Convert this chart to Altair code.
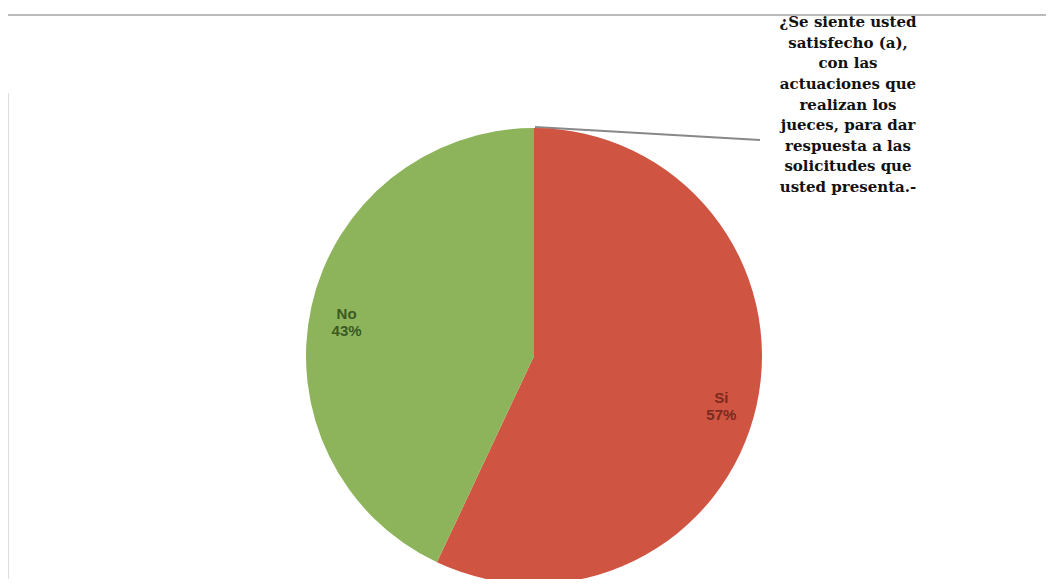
import altair as alt
import pandas as pd

categories = ["Si", "No"]
values = [57, 43]
pct_labels = ["57%", "43%"]
colors = ["#cf5441", "#8db45a"]
label_colors = ["#7a2a1e", "#3b5a22"]
title_lines = [
    "¿Se siente usted",
    "satisfecho (a),",
    "con las",
    "actuaciones que",
    "realizan los",
    "jueces, para dar",
    "respuesta a las",
    "solicitudes que",
    "usted presenta.-",
]

df = pd.DataFrame({
    "cat": categories,
    "val": values,
    "pct": pct_labels,
    "order": [0, 1],
})
df["label"] = df["cat"] + "\n" + df["pct"]

W, H = 1038, 571
cx, cy, R = 526, 348, 228

base = alt.Chart(df).encode(
    theta=alt.Theta("val:Q", stack=True),
    order=alt.Order("order:Q"),
)

pie = base.mark_arc(outerRadius=R, stroke=None).encode(
    x=alt.value(cx), y=alt.value(cy),
    color=alt.Color("cat:N", scale=alt.Scale(domain=categories, range=colors), legend=None),
)

labels = base.mark_text(radius=192, fontSize=15, fontWeight="bold", font="Liberation Sans",
                        lineBreak="\n", align="center", baseline="middle").encode(
    x=alt.value(cx), y=alt.value(cy),
    text="label:N",
    color=alt.Color("cat:N", scale=alt.Scale(domain=categories, range=label_colors), legend=None),
)

tdf = pd.DataFrame({"line": title_lines, "i": list(range(len(title_lines)))})
title = alt.Chart(tdf).mark_text(font="DejaVu Serif", fontSize=15, fontWeight="bold",
                                 align="center", baseline="middle", color="#111111").encode(
    x=alt.value(840),
    y=alt.Y("i:Q", scale=alt.Scale(domain=[0, 8], range=[14, 179]), axis=None),
    text="line:N",
)

frame_df = pd.DataFrame({
    "x": [0, 0, 140, 527],
    "x2": [1045, 0, 600, 752],
    "y": [7, 85, 575, 119],
    "y2": [7, 575, 575, 132],
    "c": ["#bbbbbb", "#dddddd", "#bbbbbb", "#888888"],
})
frames = alt.Chart(frame_df).mark_rule(strokeWidth=2).encode(
    x=alt.X("x:Q", scale=alt.Scale(domain=[0, W], range=[0, W]), axis=None),
    x2="x2:Q",
    y=alt.Y("y:Q", scale=alt.Scale(domain=[0, H], range=[0, H]), axis=None),
    y2="y2:Q",
    color=alt.Color("c:N", scale=None),
)

chart = alt.layer(frames, pie, labels, title).resolve_scale(
    color="independent", y="independent"
).properties(
    width=W, height=H, autosize=alt.AutoSizeParams(type="none"), padding=0,
    background="white",
).configure_view(stroke=None)

chart.save("out.html", embed_options={"renderer": "svg", "actions": False})
